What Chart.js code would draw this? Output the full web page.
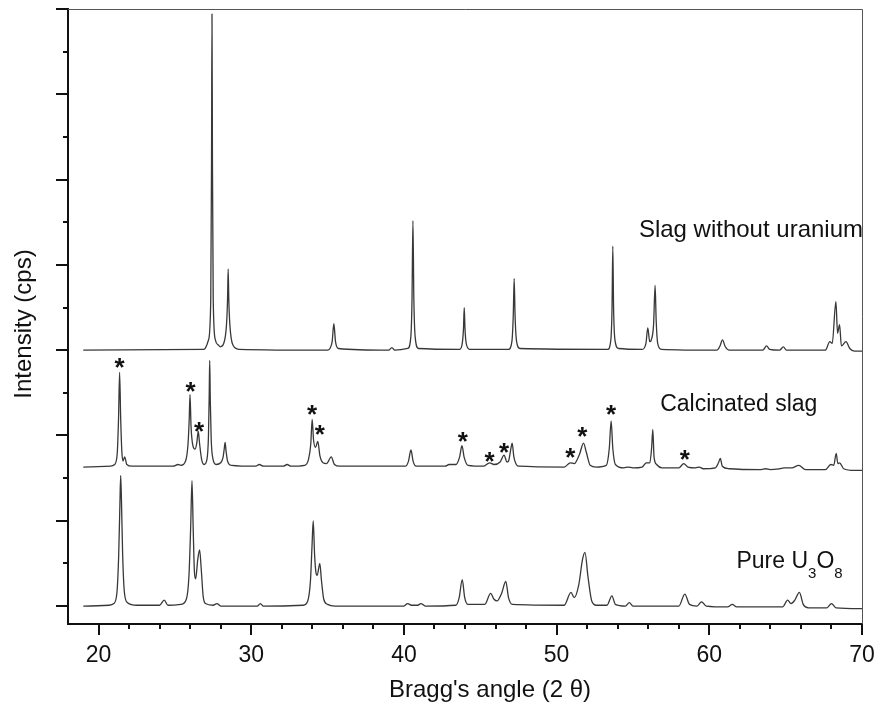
<!DOCTYPE html>
<html>
<head>
<meta charset="utf-8">
<script src="https://cdn.jsdelivr.net/npm/chart.js@4.4.1/dist/chart.umd.min.js"></script>
<style>
  html, body { margin: 0; padding: 0; background: #fff; }
  #wrap { width: 878px; height: 705px; }
</style>
</head>
<body>
<div id="wrap"><canvas id="xrd" width="878" height="705"></canvas></div>
<script>
// Bragg angle (2 theta) vs intensity, traces stacked with offsets
const slagNoU = [
    [19, 3.00], [26.9, 3.01], [27.2, 3.12], [27.35, 3.6], [27.40, 5.2], [27.43, 6.94], [27.46, 5.2], [27.51, 3.6],
    [27.65, 3.12], [27.85, 3.06], [27.98, 3.04], [28.2, 3.08], [28.38, 3.3], [28.45, 3.6], [28.49, 3.95], [28.53, 3.6],
    [28.6, 3.3], [28.8, 3.06], [29.2, 3.01], [35.0, 3.0], [35.15, 3.02], [35.3, 3.1], [35.41, 3.31], [35.52, 3.1],
    [35.7, 3.02], [39.0, 3.0], [39.21, 3.03], [39.4, 3.0], [40.25, 3.02], [40.45, 3.15], [40.53, 3.6], [40.59, 4.52],
    [40.65, 3.6], [40.74, 3.15], [40.95, 3.02], [43.65, 3.01], [43.82, 3.08], [43.9, 3.25], [43.95, 3.50], [44.0, 3.25],
    [44.08, 3.08], [44.3, 3.01], [46.85, 3.01], [47.07, 3.1], [47.16, 3.4], [47.22, 3.84], [47.28, 3.4], [47.38, 3.1],
    [47.6, 3.02], [53.35, 3.01], [53.55, 3.12], [53.63, 3.5], [53.68, 4.22], [53.73, 3.5], [53.82, 3.12], [54.05, 3.02],
    [55.6, 3.01], [55.85, 3.08], [55.97, 3.26], [56.1, 3.1], [56.2, 3.12], [56.35, 3.3], [56.45, 3.76], [56.52, 3.35],
    [56.62, 3.08], [56.85, 3.01], [60.5, 3.0], [60.7, 3.05], [60.86, 3.12], [61.05, 3.04], [61.3, 3.0], [63.5, 3.0],
    [63.75, 3.05], [63.95, 3.01], [64.6, 3.0], [64.85, 3.04], [65.05, 3.0], [67.6, 3.0], [67.89, 3.1], [68.05, 3.08],
    [68.29, 3.57], [68.4, 3.2], [68.53, 3.30], [68.65, 3.05], [68.95, 3.10], [69.2, 3.02], [69.5, 2.99], [70, 2.99]
];

const calcSlag = [
    [19, 1.63], [20.8, 1.64], [21.05, 1.66], [21.22, 1.78], [21.31, 2.2], [21.38, 2.74], [21.45, 2.2], [21.53, 1.8],
    [21.6, 1.7], [21.71, 1.75], [21.85, 1.66], [22.2, 1.64], [24.9, 1.64], [25.2, 1.66], [25.4, 1.65], [25.7, 1.70],
    [25.86, 1.9], [25.94, 2.2], [25.99, 2.48], [26.06, 2.1], [26.18, 1.88], [26.32, 1.84], [26.44, 1.92], [26.53, 2.05],
    [26.62, 1.9], [26.75, 1.72], [26.91, 1.66], [27.1, 1.72], [27.2, 2.0], [27.25, 2.5], [27.28, 2.88], [27.32, 2.4],
    [27.38, 1.95], [27.5, 1.72], [27.7, 1.66], [28.0, 1.68], [28.15, 1.74], [28.23, 1.84], [28.29, 1.92], [28.35, 1.82],
    [28.45, 1.7], [28.7, 1.65], [30.3, 1.64], [30.53, 1.66], [30.8, 1.64], [32.1, 1.64], [32.35, 1.66], [32.6, 1.64],
    [33.5, 1.65], [33.75, 1.72], [33.9, 1.9], [33.99, 2.19], [34.08, 1.95], [34.21, 1.86], [34.36, 1.93], [34.5, 1.76],
    [34.7, 1.68], [34.93, 1.67], [35.24, 1.75], [35.45, 1.66], [35.8, 1.64], [40.1, 1.64], [40.3, 1.7], [40.46, 1.83],
    [40.6, 1.7], [40.8, 1.64], [42.7, 1.64], [42.96, 1.66], [43.4, 1.66], [43.65, 1.75], [43.8, 1.88], [43.95, 1.74],
    [44.2, 1.65], [45.2, 1.64], [45.61, 1.68], [45.9, 1.66], [46.3, 1.69], [46.56, 1.77], [46.75, 1.69], [46.85, 1.7],
    [47.0, 1.84], [47.09, 1.91], [47.2, 1.75], [47.5, 1.64], [50.5, 1.63], [50.9, 1.68], [51.15, 1.67], [51.5, 1.78],
    [51.76, 1.91], [51.95, 1.8], [52.2, 1.65], [52.6, 1.63], [53.25, 1.65], [53.45, 1.85], [53.57, 2.17], [53.68, 1.85],
    [53.85, 1.66], [54.4, 1.62], [54.67, 1.63], [55.0, 1.62], [55.6, 1.63], [55.88, 1.68], [56.1, 1.68], [56.22, 1.85],
    [56.3, 2.07], [56.38, 1.75], [56.55, 1.66], [56.9, 1.62], [58.0, 1.62], [58.33, 1.67], [58.6, 1.63], [59.1, 1.62],
    [59.34, 1.63], [59.6, 1.61], [60.4, 1.62], [60.6, 1.68], [60.72, 1.73], [60.85, 1.64], [61.3, 1.61], [63.4, 1.60],
    [63.68, 1.61], [64.0, 1.60], [64.6, 1.61], [64.91, 1.62], [65.4, 1.62], [65.86, 1.65], [66.3, 1.6], [67.6, 1.6],
    [67.96, 1.66], [68.15, 1.65], [68.31, 1.79], [68.42, 1.67], [68.53, 1.68], [68.8, 1.61], [69.5, 1.59], [70, 1.59]
];

const pureU3O8 = [
    [19, 0.0], [20.7, 0.01], [21.0, 0.03], [21.2, 0.15], [21.32, 0.6], [21.4, 1.2], [21.45, 1.53], [21.5, 1.25],
    [21.58, 0.6], [21.7, 0.15], [21.9, 0.04], [22.5, 0.01], [24.0, 0.01], [24.3, 0.07], [24.55, 0.01], [25.4, 0.02],
    [25.75, 0.08], [25.92, 0.35], [26.03, 0.9], [26.12, 1.47], [26.2, 0.9], [26.28, 0.4], [26.36, 0.32], [26.5, 0.55],
    [26.62, 0.66], [26.72, 0.45], [26.85, 0.12], [27.0, 0.03], [27.5, 0.01], [27.76, 0.03], [28.0, 0.0], [30.4, 0.0],
    [30.59, 0.03], [30.8, 0.0], [33.4, 0.01], [33.7, 0.06], [33.88, 0.3], [33.98, 0.7], [34.06, 1.0], [34.15, 0.6],
    [34.25, 0.38], [34.32, 0.36], [34.49, 0.5], [34.6, 0.3], [34.75, 0.08], [35.0, 0.02], [35.5, 0.0], [40.0, 0.0],
    [40.24, 0.03], [40.5, 0.01], [40.9, 0.01], [41.12, 0.03], [41.4, 0.0], [43.4, 0.01], [43.62, 0.1], [43.82, 0.31],
    [43.98, 0.1], [44.2, 0.02], [45.3, 0.02], [45.68, 0.15], [45.9, 0.08], [46.1, 0.06], [46.4, 0.15], [46.67, 0.29],
    [46.85, 0.1], [47.1, 0.02], [50.5, 0.01], [50.94, 0.16], [51.15, 0.1], [51.45, 0.25], [51.7, 0.55], [51.86, 0.63],
    [52.05, 0.35], [52.3, 0.06], [52.6, 0.01], [53.3, 0.01], [53.62, 0.12], [53.85, 0.02], [54.5, 0.0], [54.76, 0.04],
    [55.0, 0.0], [58.0, 0.0], [58.4, 0.14], [58.7, 0.02], [59.2, 0.0], [59.49, 0.05], [59.8, 0.0], [61.2, -0.01],
    [61.5, 0.02], [61.8, -0.01], [64.8, -0.01], [65.13, 0.07], [65.35, 0.03], [65.6, 0.07], [65.9, 0.16], [66.15, 0.02],
    [66.5, -0.02], [67.7, -0.02], [68.0, 0.03], [68.3, -0.02], [70, -0.03]
];

// asterisks marking U3O8 reflections in the calcinated slag
const starX = [21.38, 26.03, 26.58, 33.99, 34.49, 43.86, 45.61, 46.56, 50.90, 51.69, 53.57, 58.40];
const starY = [2.87, 2.59, 2.12, 2.32, 2.09, 2.00, 1.77, 1.88, 1.82, 2.06, 2.32, 1.79];

const traceNames = ['Slag without uranium', 'Calcinated slag', 'Pure U'];
const xMin = 18, xMax = 70, xStep = 2;
const yMin = -0.21, yMax = 7.0, yStep = 0.5;

const FONT = '"Liberation Sans", Arial, Helvetica, sans-serif';
const LINE = '#383838';

function toXY(arr) {
    return arr.map(p => ({ x: p[0], y: p[1] }));
}

const decor = {
    id: 'decor',
    afterDraw(chart) {
        const ctx = chart.ctx;
        const xs = chart.scales.x;
        const ys = chart.scales.y;
        const area = chart.chartArea;
        ctx.save();

        // top / right frame
        ctx.strokeStyle = '#555';
        ctx.lineWidth = 1;
        ctx.beginPath();
        ctx.moveTo(area.left, area.top + 0.5);
        ctx.lineTo(area.right + 0.5, area.top + 0.5);
        ctx.lineTo(area.right + 0.5, area.bottom);
        ctx.stroke();

        // tick marks, outward
        ctx.strokeStyle = '#111';
        ctx.lineWidth = 2;
        xs.ticks.forEach(t => {
            const v = Math.round(t.value * 100) / 100;
            if (v <= xMin) return;
            const px = Math.round(xs.getPixelForValue(v));
            const len = v % 10 === 0 ? 11 : 5;
            ctx.beginPath();
            ctx.moveTo(px, area.bottom);
            ctx.lineTo(px, area.bottom + len);
            ctx.stroke();
        });
        ys.ticks.forEach(t => {
            const v = Math.round(t.value * 100) / 100;
            if (v < 0 || (v * 2) % 1 !== 0) return;
            const py = Math.round(ys.getPixelForValue(v));
            const len = Number.isInteger(v) ? 12 : 5;
            ctx.beginPath();
            ctx.moveTo(area.left - len, py);
            ctx.lineTo(area.left, py);
            ctx.stroke();
        });

        // asterisks
        ctx.fillStyle = '#111';
        ctx.font = 'bold 26px ' + FONT;
        ctx.textAlign = 'center';
        ctx.textBaseline = 'alphabetic';
        starX.forEach((sx, i) => {
            ctx.fillText('*', xs.getPixelForValue(sx), ys.getPixelForValue(starY[i]) + 15);
        });

        // trace labels
        ctx.font = '24px ' + FONT;
        ctx.textBaseline = 'middle';
        ctx.textAlign = 'right';
        ctx.fillText(traceNames[0], xs.getPixelForValue(70) + 1, ys.getPixelForValue(4.41));
        ctx.font = '23px ' + FONT;
        ctx.textAlign = 'left';
        ctx.fillText(traceNames[1], xs.getPixelForValue(56.78), ys.getPixelForValue(2.36));
        let lx = xs.getPixelForValue(61.78);
        const ly = ys.getPixelForValue(0.52);
        ctx.fillText(traceNames[2], lx, ly);
        lx += ctx.measureText(traceNames[2]).width;
        ctx.font = '15px ' + FONT;
        ctx.fillText('3', lx, ly + 12);
        lx += ctx.measureText('3').width;
        ctx.font = '23px ' + FONT;
        ctx.fillText('O', lx, ly);
        lx += ctx.measureText('O').width;
        ctx.font = '15px ' + FONT;
        ctx.fillText('8', lx, ly + 12);

        // axis titles
        ctx.font = '24px ' + FONT;
        ctx.textAlign = 'center';
        ctx.textBaseline = 'middle';
        ctx.fillText("Bragg's angle (2 \u03B8)", 490, 690);
        ctx.translate(24, 324);
        ctx.rotate(-Math.PI / 2);
        ctx.fillText('Intensity (cps)', 0, 0);
        ctx.restore();
    }
};

const ctx = document.getElementById('xrd').getContext('2d');
new Chart(ctx, {
    type: 'line',
    data: {
        datasets: [slagNoU, calcSlag, pureU3O8].map((arr, i) => ({
            label: traceNames[i],
            data: toXY(arr),
            borderColor: LINE,
            borderWidth: 1.3,
            pointRadius: 0,
            fill: false,
            cubicInterpolationMode: 'monotone'
        }))
    },
    options: {
        responsive: false,
        animation: false,
        events: [],
        layout: { padding: { top: 9, right: 16, left: 0, bottom: 0 } },
        plugins: {
            legend: { display: false },
            tooltip: { enabled: false }
        },
        scales: {
            x: {
                type: 'linear',
                min: xMin,
                max: xMax,
                afterFit: s => { s.height = 81; s.paddingLeft = 0; s.paddingRight = 0; },
                border: { display: true, color: '#111', width: 2 },
                grid: { display: true, drawOnChartArea: false, drawTicks: true, tickLength: 11, color: 'rgba(0,0,0,0)' },
                ticks: {
                    stepSize: xStep,
                    autoSkip: false,
                    maxRotation: 0,
                    padding: 7,
                    color: '#111',
                    font: { family: FONT, size: 23 },
                    callback: v => (v % 10 === 0 ? v : '')
                }
            },
            y: {
                type: 'linear',
                min: yMin,
                max: yMax,
                afterFit: s => { s.width = 68; s.paddingTop = 0; s.paddingBottom = 0; },
                border: { display: true, color: '#111', width: 2 },
                grid: { display: false },
                ticks: { stepSize: yStep, includeBounds: false, display: false }
            }
        }
    },
    plugins: [decor]
});
</script>
</body>
</html>
